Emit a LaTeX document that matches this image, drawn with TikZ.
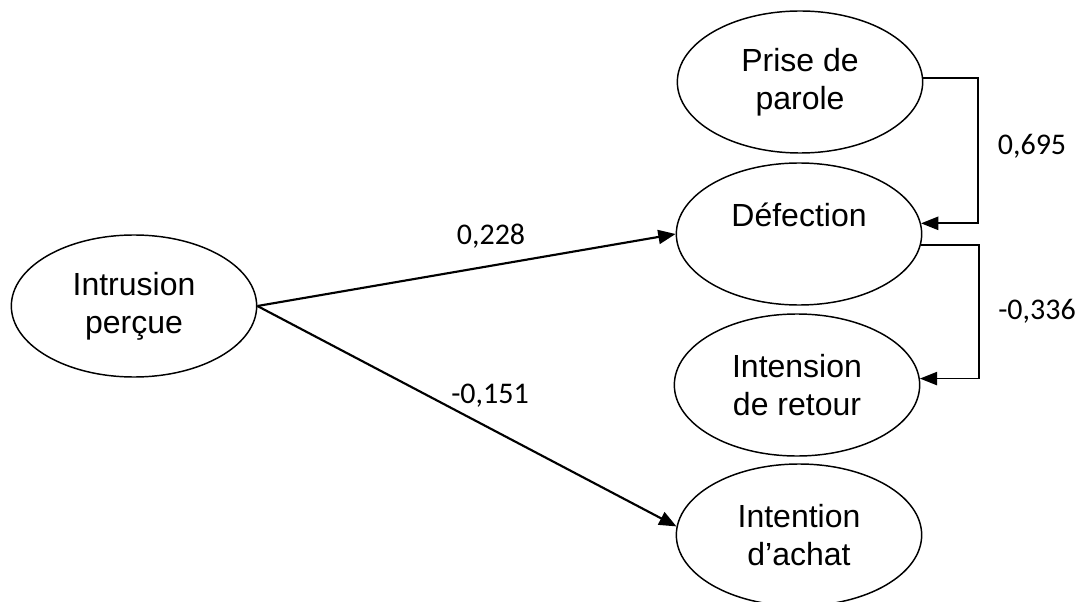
\documentclass[tikz,border=0pt]{standalone}
\usepackage{fontspec}
\setmainfont{Liberation Sans}
\newfontfamily\coeffont{Carlito}
\usetikzlibrary{arrows.meta,shapes.geometric}

\tikzset{
  var/.style={draw, ellipse, line width=1.1pt, minimum width=184pt, minimum height=106.5pt,
    inner sep=0pt, align=center, font=\fontsize{24}{28.5}\selectfont},
  effect/.style={line width=1.6pt, -{Triangle[length=13pt,width=10.5pt]}},
  feedback/.style={line width=1.3pt, -{Triangle[length=13pt,width=10pt]}},
  coef/.style={anchor=base, inner sep=0pt, font=\coeffont\fontsize{22.5}{27}\selectfont},
}

\begin{document}
\begin{tikzpicture}[x=0.75pt,y=-0.75pt]
	\useasboundingbox (0,0) rectangle (1081,602);
	
	\node[var] (intr) at (134,306) {Intrusion\\perçue};
	
	\node[var] (prise) at (800,82) {Prise de\\parole};
	\node[var] (defe) at (799,234) {Défection\\~};
	\node[var] (retour) at (797,385) {Intension\\de retour};
	\node[var] (achat) at (799,535) {Intention\\d’achat};
	
	\node[coef] (c1) at (491,245) {0,228};
	\node[coef] (c2) at (490,403) {-0,151};
	\node[coef] (c3) at (1032,155) {0,695};
	\node[coef] (c4) at (1037,320) {-0,336};
	
	\draw[effect] (intr.east) -- (defe.west);
	\draw[effect] (intr.east) -- (achat.176);
	\draw[feedback] (prise.2) -- ++(55,0) |- (defe.5);
	\draw[feedback] (defe.-5) -- ++(58,0) |- (retour.3);
\end{tikzpicture}
\end{document}
